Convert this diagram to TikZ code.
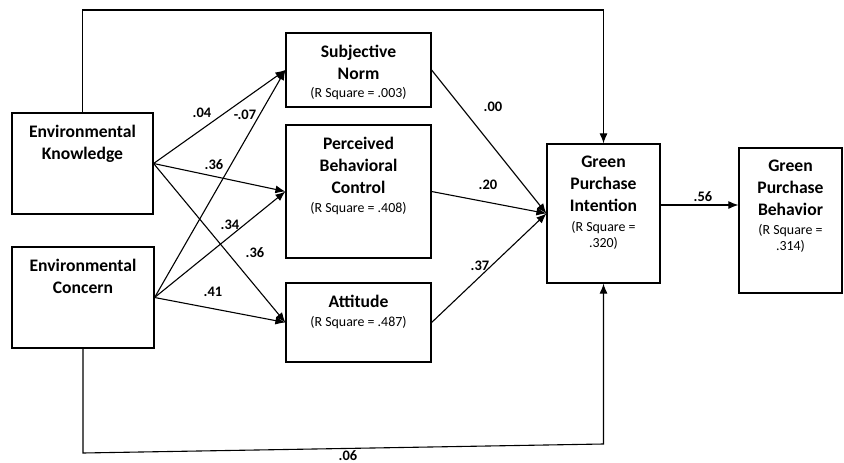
\documentclass[tikz,border=0pt]{standalone}
\usepackage{fontspec}
\setmainfont{Carlito}
\usetikzlibrary{arrows.meta}

\newcommand{\rsq}{\fontsize{13.9}{15}\selectfont\mdseries}

\begin{document}
\begin{tikzpicture}[
    x=1pt, y=-1pt,
    line width=1.1pt,
    line join=miter,
    box/.style={draw, line width=1.2pt, inner sep=0pt},
    title/.style={anchor=north, align=center, inner sep=0pt,
        font=\fontsize{17.6}{22}\selectfont\bfseries},
    coef/.style={inner sep=1pt, font=\fontsize{14.5}{16}\selectfont\bfseries},
    path/.style={-{Latex[length=10pt,width=8pt]}}
]
\useasboundingbox (0,0) rectangle (844,463);

% Constructs
\node[box, minimum width=141pt, minimum height=101pt] (ek) at (82.5,163.5) {};
\node[box, minimum width=142pt, minimum height=101pt] (ec) at (83,297.5) {};
\node[box, minimum width=145pt, minimum height=74pt] (sn) at (358.5,70) {};
\node[box, minimum width=145pt, minimum height=133pt] (pbc) at (358.5,191.5) {};
\node[box, minimum width=145pt, minimum height=79pt] (att) at (358.5,322.5) {};
\node[box, minimum width=113pt, minimum height=139pt] (gpi) at (603.5,213.5) {};
\node[box, minimum width=103pt, minimum height=145pt] (gpb) at (790.5,220.5) {};

% Construct texts
\node[title] (ek-t) at ([yshift=-12.5pt]ek.north) {Environmental\\Knowledge};
\node[title] (ec-t) at ([yshift=-12.5pt]ec.north) {Environmental\\Concern};
\node[title] (sn-t) at ([yshift=-12.5pt]sn.north) {Subjective\\Norm\\[-4pt]{\rsq (R Square = .003)}};
\node[title] (pbc-t) at ([yshift=-12.5pt]pbc.north) {Perceived\\Behavioral\\Control\\[-3pt]{\rsq (R Square = .408)}};
\node[title] (att-t) at ([yshift=-12.5pt]att.north) {Attitude\\[-3pt]{\rsq (R Square = .487)}};
\node[title] (gpi-t) at ([yshift=-12.5pt]gpi.north) {Green\\Purchase\\Intention\\[-2pt]{\rsq (R Square =}\\[-6.5pt]{\rsq .320)}};
\node[title] (gpb-t) at ([yshift=-12.5pt]gpb.north) {Green\\Purchase\\Behavior\\[-3pt]{\rsq (R Square =}\\[-6.5pt]{\rsq .314)}};

% Paths from the antecedents
\draw[path] (ek.east) -- (sn.west);
\draw[path] (ek.east) -- (pbc.west);
\draw[path] (ek.east) -- (att.west);
\draw[path] (ec.east) -- (sn.west);
\draw[path] (ec.east) -- (pbc.west);
\draw[path] (ec.east) -- (att.west);

% Paths to intention and behavior
\draw[path] (sn.east) -- (gpi.west);
\draw[path] (pbc.east) -- (gpi.west);
\draw[path] (att.east) -- (gpi.west);
\draw[path] (gpi.east |- 0,205) coordinate (gpi-o) -- (gpb.west |- gpi-o);

% Direct paths
\coordinate (top) at (0,10);
\coordinate (botl) at (0,453);
\coordinate (botr) at (0,444);
\draw[path] (ek.north) -- (ek.north |- top) -- (gpi.north |- top) -- (gpi.north);
\draw[path] (ec.south) -- (ec.south |- botl) -- (gpi.south |- botr) -- (gpi.south);

% Coefficients
\node[coef] (c-ek-sn) at (202,113) {.04};
\node[coef] (c-ec-sn) at (245,115) {-.07};
\node[coef] (c-ek-pbc) at (214,165) {.36};
\node[coef] (c-ec-pbc) at (230,225) {.34};
\node[coef] (c-ek-att) at (255,253) {.36};
\node[coef] (c-ec-att) at (213,292) {.41};
\node[coef] (c-sn) at (493,107) {.00};
\node[coef] (c-pbc) at (488,185) {.20};
\node[coef] (c-att) at (480,266) {.37};
\node[coef] (c-gpi) at (703,197) {.56};
\node[coef] (c-ec-gpi) at (348,456) {.06};
\end{tikzpicture}
\end{document}
